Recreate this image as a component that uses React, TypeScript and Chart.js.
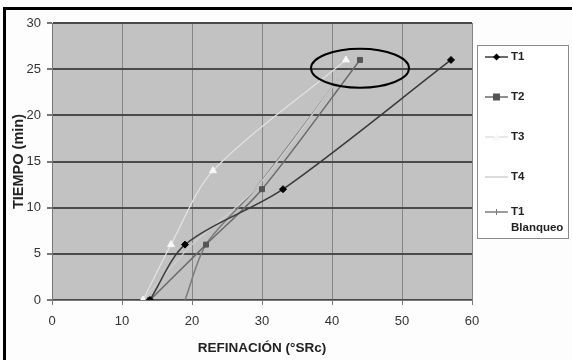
import React, { useEffect, useRef } from "react";
import { Chart, registerables } from "chart.js";

Chart.register(...registerables);

// Refining degree (°SRc) against time (min) for each treatment
const T1 = [
  { x: 14, y: 0 },
  { x: 19, y: 6 },
  { x: 33, y: 12 },
  { x: 57, y: 26 },
];
const T2 = [
  { x: 14, y: 0 },
  { x: 22, y: 6 },
  { x: 30, y: 12 },
  { x: 44, y: 26 },
];
const T3 = [
  { x: 13, y: 0 },
  { x: 17, y: 6 },
  { x: 23, y: 14 },
  { x: 42, y: 26 },
];
const T4 = [
  { x: 13, y: 0 },
  { x: 20, y: 6 },
  { x: 29, y: 12 },
  { x: 41, y: 24 },
];
const T1_BLANQUEO = [
  { x: 19, y: 0 },
  { x: 22, y: 6 },
  { x: 29, y: 12 },
  { x: 41, y: 24 },
];

const SERIES_NAMES = ["T1", "T2", "T3", "T4", "T1\nBlanqueo"];
const X_TICKS = [0, 10, 20, 30, 40, 50, 60];
const Y_TICKS = [0, 5, 10, 15, 20, 25, 30];

// Highlighted region around the final readings (data units)
const HIGHLIGHT = { cx: 44, cy: 25.1, rx: 7, ry: 2.1 };

const FONT = "'Liberation Sans', Arial, sans-serif";

const framePlugin = {
  id: "frame",
  beforeDraw(chart: any) {
    const { ctx, width, height, chartArea } = chart;
    ctx.save();
    ctx.fillStyle = "#fdfdfd";
    ctx.fillRect(0, 0, width, height);
    ctx.fillStyle = "#000";
    ctx.fillRect(3, 7, width - 3, 3);
    ctx.fillRect(3, 7, 3, height - 7);
    ctx.fillStyle = "#c2c2c2";
    ctx.fillRect(
      chartArea.left,
      chartArea.top,
      chartArea.right - chartArea.left,
      chartArea.bottom - chartArea.top
    );
    ctx.restore();
  },
  afterDatasetsDraw(chart: any) {
    const { ctx, scales } = chart;
    const xs = scales.x;
    const ys = scales.y;
    const cx = xs.getPixelForValue(HIGHLIGHT.cx);
    const cy = ys.getPixelForValue(HIGHLIGHT.cy);
    const rx = Math.abs(xs.getPixelForValue(HIGHLIGHT.cx + HIGHLIGHT.rx) - cx);
    const ry = Math.abs(ys.getPixelForValue(HIGHLIGHT.cy + HIGHLIGHT.ry) - cy);
    ctx.save();
    ctx.strokeStyle = "#000";
    ctx.lineWidth = 2;
    ctx.beginPath();
    ctx.ellipse(cx, cy, rx, ry, 0, 0, Math.PI * 2);
    ctx.stroke();
    ctx.restore();
  },
  afterDraw(chart: any) {
    const { ctx, chartArea } = chart;
    const boxLeft = chartArea.right + 5;
    const boxTop = 45;
    const boxRight = 569;
    const boxBottom = 239;
    ctx.save();
    ctx.fillStyle = "#ffffff";
    ctx.fillRect(boxLeft, boxTop, boxRight - boxLeft, boxBottom - boxTop);
    ctx.strokeStyle = "#8a8a8a";
    ctx.lineWidth = 1;
    ctx.strokeRect(boxLeft + 0.5, boxTop + 0.5, boxRight - boxLeft - 1, boxBottom - boxTop - 1);
    ctx.font = `bold 11.5px ${FONT}`;
    ctx.textBaseline = "middle";
    ctx.textAlign = "left";
    const rowYs = [57, 97, 137, 177, 212];
    chart.data.datasets.forEach((ds: any, i: number) => {
      const y = rowYs[i];
      const x0 = boxLeft + 8;
      const x1 = boxLeft + 31;
      ctx.strokeStyle = ds.borderColor;
      ctx.lineWidth = 1.5;
      ctx.beginPath();
      ctx.moveTo(x0, y);
      ctx.lineTo(x1, y);
      ctx.stroke();
      const mx = (x0 + x1) / 2;
      ctx.fillStyle = ds.pointBackgroundColor;
      ctx.strokeStyle = ds.pointBorderColor;
      const r = ds.pointRadius;
      ctx.beginPath();
      if (ds.pointStyle === "rectRot") {
        ctx.moveTo(mx, y - r);
        ctx.lineTo(mx + r, y);
        ctx.lineTo(mx, y + r);
        ctx.lineTo(mx - r, y);
        ctx.closePath();
        ctx.fill();
      } else if (ds.pointStyle === "rect") {
        ctx.fillRect(mx - r, y - r, r * 2, r * 2);
      } else if (ds.pointStyle === "triangle") {
        ctx.moveTo(mx, y - r);
        ctx.lineTo(mx + r, y + r * 0.8);
        ctx.lineTo(mx - r, y + r * 0.8);
        ctx.closePath();
        ctx.fill();
      } else if (ds.pointStyle === "cross") {
        ctx.lineWidth = 1;
        ctx.moveTo(mx, y - 3);
        ctx.lineTo(mx, y + 3);
        ctx.stroke();
      }
      ctx.fillStyle = "#222";
      const lines = String(SERIES_NAMES[i]).split("\n");
      lines.forEach((t, k) => ctx.fillText(t, x1 + 3, y + k * 16));
    });
    ctx.restore();
  },
};

function makeDataset(
  data: any[],
  color: string,
  width: number,
  style: string,
  radius: number,
  fill: string,
  idx: number
) {
  return {
    label: SERIES_NAMES[idx],
    data,
    borderColor: color,
    borderWidth: width,
    pointStyle: style,
    pointRadius: radius,
    pointBackgroundColor: fill,
    pointBorderColor: fill,
    pointBorderWidth: 1,
    tension: 0.3,
    showLine: true,
    fill: false,
  };
}

export default function App() {
  const canvasRef = useRef<HTMLCanvasElement | null>(null);

  useEffect(() => {
    const canvas = canvasRef.current;
    if (!canvas) return;
    const chart = new Chart(canvas, {
      type: "scatter",
      data: {
        datasets: [
          makeDataset(T1, "#3a3a3a", 1.5, "rectRot", 3.5, "#000000", 0),
          makeDataset(T2, "#6a6a6a", 1.5, "rect", 3.5, "#555555", 1),
          makeDataset(T3, "#e2e2e2", 1.2, "triangle", 4, "#f8f8f8", 2),
          makeDataset(T4, "#d0d0d0", 1.2, "line", 0, "#d0d0d0", 3),
          makeDataset(T1_BLANQUEO, "#7c7c7c", 1.5, "cross", 0, "#7c7c7c", 4),
        ] as any,
      },
      plugins: [framePlugin],
      options: {
        responsive: false,
        animation: false,
        layout: { padding: { left: 0, top: 23, right: 100, bottom: 0 } },
        plugins: {
          legend: { display: false },
          tooltip: { enabled: false },
        },
        scales: {
          x: {
            type: "linear",
            min: 0,
            max: 60,
            afterBuildTicks: (s: any) => {
              s.ticks = X_TICKS.map((v) => ({ value: v }));
            },
            afterFit: (s: any) => {
              s.height = 60;
            },
            grid: { color: "#858585", lineWidth: 1, tickLength: 5, tickColor: "#777" },
            border: { display: true, color: "#777", width: 1 },
            ticks: { color: "#333", font: { family: FONT, size: 13 }, padding: 9, maxRotation: 0 },
            title: {
              display: true,
              text: "REFINACIÓN (°SRc)",
              color: "#222",
              font: { family: FONT, size: 13.5, weight: "bold" },
              padding: { top: 0, bottom: 4 },
            },
          },
          y: {
            type: "linear",
            min: 0,
            max: 30,
            afterBuildTicks: (s: any) => {
              s.ticks = Y_TICKS.map((v) => ({ value: v }));
            },
            afterFit: (s: any) => {
              s.width = 52;
            },
            grid: { color: "#4a4a4a", lineWidth: 2, tickLength: 5, tickColor: "#777" },
            border: { display: true, color: "#777", width: 1 },
            ticks: { color: "#333", font: { family: FONT, size: 13 }, padding: 6 },
            title: {
              display: true,
              text: "TIEMPO (min)",
              color: "#222",
              font: { family: FONT, size: 14.5, weight: "bold" },
              padding: { top: 10, bottom: 0 },
            },
          },
        },
      } as any,
    });
    return () => chart.destroy();
  }, []);

  return (
    <div style={{ position: "absolute", left: 0, top: 0, width: 572, height: 360 }}>
      <canvas ref={canvasRef} width={572} height={360} style={{ display: "block" }} />
    </div>
  );
}
